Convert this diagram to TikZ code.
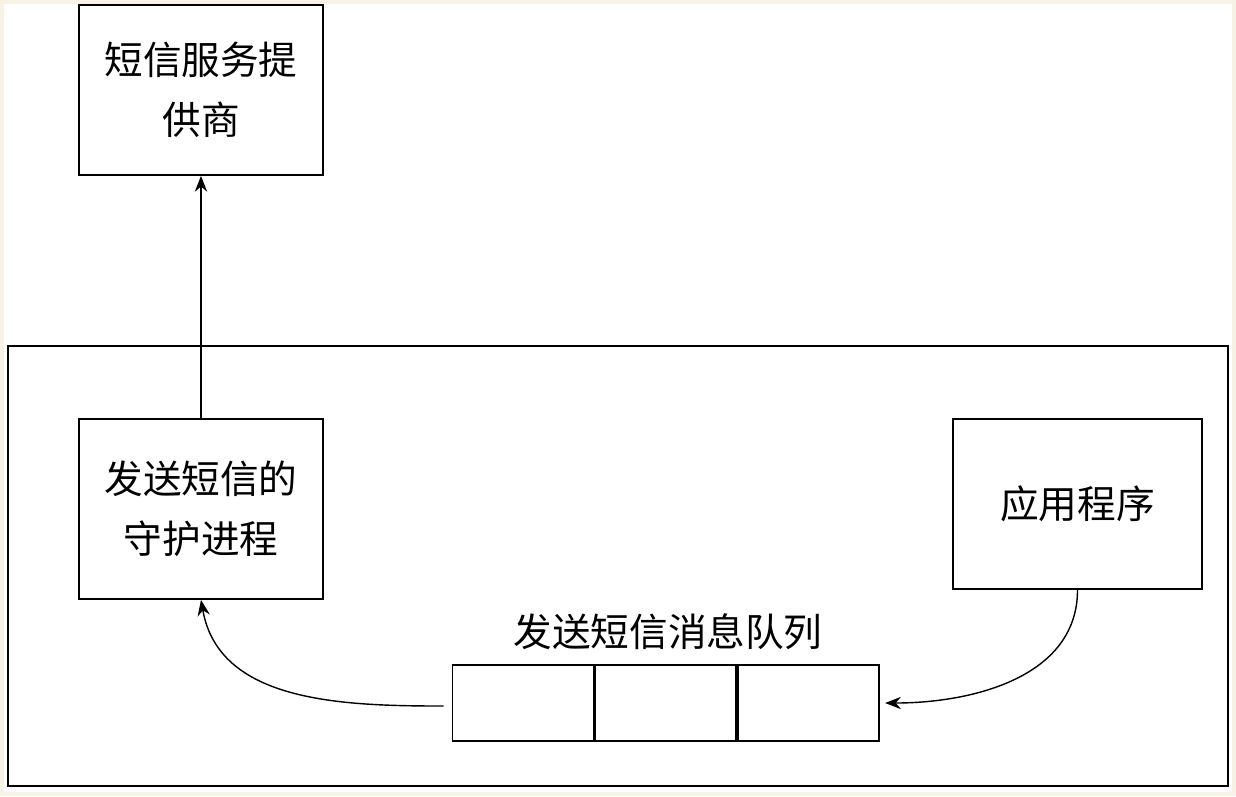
\documentclass[tikz,border=0pt]{standalone}
\usepackage{fontspec}
\usetikzlibrary{arrows.meta}
\newfontfamily\cjk{Noto Sans CJK SC}
\definecolor{paper}{HTML}{F6F3E6}
\begin{document}
\begin{tikzpicture}[x=0.02cm,y=-0.02cm,>={Stealth[length=9pt,width=7pt]},
  box/.style={draw,line width=1pt,inner sep=0pt,align=center,font=\cjk\fontsize{22}{34}\selectfont},
  slot/.style={draw,line width=1pt,minimum width=2.82cm,minimum height=1.52cm}]
\fill[paper] (0,0) rectangle (1236,796);
\fill[white] (4,4) rectangle (1232,792);
\draw[line width=1pt] (8,346) rectangle (1228,786);
\node[box,minimum width=4.88cm,minimum height=3.4cm] (sp) at (201,90) {短信服务提\\供商};
\node[box,minimum width=4.88cm,minimum height=3.6cm] (daemon) at (201,509) {发送短信的\\守护进程};
\node[box,minimum width=4.98cm,minimum height=3.4cm] (app) at (1077.5,504) {应用程序};
\node[slot] (q1) at (523,703) {};
\node[slot,anchor=west] (q2) at (q1.east) {};
\node[slot,anchor=west] (q3) at (q2.east) {};
\node[font=\cjk\fontsize{22}{26}\selectfont] (qlabel) at (668,632) {发送短信消息队列};
\draw[->,line width=0.8pt] (daemon) -- (sp);
\draw[->,line width=0.8pt] (q1.west) ++(-8,3) coordinate (qs) (qs) to[out=180,in=-80] (daemon.south);
\draw[->,line width=0.8pt] (app.south) to[out=-90,in=0] ([xshift=3pt]q3.east);
\end{tikzpicture}
\end{document}
